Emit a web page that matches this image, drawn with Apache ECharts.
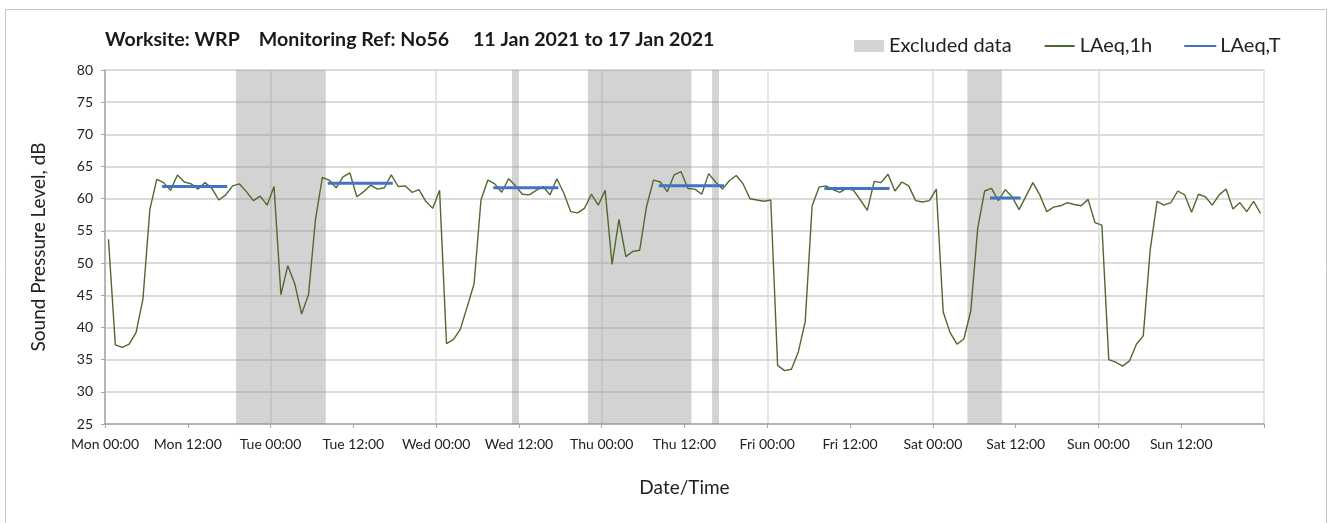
<!DOCTYPE html>
<html lang="en">
<head>
    <meta charset="UTF-8">
    <title>Noise monitoring No56</title>
    <style>
        html, body { margin: 0; padding: 0; background: #fff; }
        #main { width: 1336px; height: 523px; }
    </style>
</head>
<body>
<div id="main"></div>
<script src="https://cdn.jsdelivr.net/npm/echarts@6/dist/echarts.min.js"></script>
<script>
    const myChart = echarts.init(document.getElementById('main'));

    // hourly LAeq,1h from Mon 00:00 (one value per hour)
    const laeq1h = [
        53.7, 37.3, 36.9, 37.4, 39.2, 44.4, 58.3, 63.0, 62.5, 61.3, 63.7, 62.6, 62.3, 61.5, 62.5, 61.6, 59.8, 60.6, 62.0, 62.3, 61.1, 59.7, 60.4, 59.0,
        61.9, 45.1, 49.6, 46.8, 42.1, 45.1, 56.7, 63.3, 62.9, 61.7, 63.4, 64.0, 60.3, 61.1, 62.1, 61.5, 61.7, 63.7, 61.9, 62.0, 61.0, 61.4, 59.6, 58.5,
        61.3, 37.5, 38.1, 39.7, 43.2, 46.8, 59.8, 62.9, 62.3, 61.0, 63.1, 62.0, 60.7, 60.6, 61.3, 61.9, 60.6, 63.1, 60.9, 58.0, 57.8, 58.5, 60.7, 59.0,
        61.3, 49.8, 56.8, 51.0, 51.8, 52.0, 58.8, 62.9, 62.6, 61.1, 63.7, 64.2, 61.6, 61.5, 60.7, 63.9, 62.6, 61.5, 62.8, 63.6, 62.3, 60.0, 59.8, 59.6,
        59.8, 34.1, 33.3, 33.5, 36.2, 40.9, 58.9, 61.8, 62.0, 61.4, 61.0, 61.6, 61.3, 59.8, 58.2, 62.7, 62.5, 63.8, 61.2, 62.6, 62.0, 59.7, 59.5, 59.7,
        61.5, 42.4, 39.2, 37.4, 38.2, 42.6, 55.4, 61.2, 61.6, 59.7, 61.4, 60.3, 58.3, 60.4, 62.5, 60.6, 58.0, 58.7, 58.9, 59.4, 59.1, 58.9, 59.9, 56.3,
        55.9, 35.0, 34.6, 34.0, 34.8, 37.4, 38.7, 52.0, 59.6, 59.0, 59.4, 61.2, 60.6, 57.9, 60.7, 60.3, 59.0, 60.6, 61.5, 58.4, 59.4, 58.0, 59.6, 57.7
    ];

    // LAeq,T periods (hours from Mon 00:00)
    const periodStart = [8.5, 32.5, 56.5, 80.5, 104.5, 128.5];
    const periodEnd = [17.5, 41.5, 65.5, 89.5, 113.5, 132.5];
    const periodValue = [61.9, 62.4, 61.7, 62.0, 61.6, 60.1];

    // excluded data ranges (hours)
    const excludedStart = [19, 59, 70, 88, 125];
    const excludedEnd = [32, 60, 85, 89, 130];

    const tickLabels = [
        'Mon 00:00', 'Mon 12:00', 'Tue 00:00', 'Tue 12:00', 'Wed 00:00', 'Wed 12:00', 'Thu 00:00',
        'Thu 12:00', 'Fri 00:00', 'Fri 12:00', 'Sat 00:00', 'Sat 12:00', 'Sun 00:00', 'Sun 12:00'
    ];

    const font = 'Lato, "Open Sans", sans-serif';

    /*数据整理*/
    const lineData = laeq1h.map((v, i) => [i + 0.5, v]);
    const periodData = [];
    periodStart.forEach((s, i) => {
        periodData.push([s, periodValue[i]], [periodEnd[i], periodValue[i]], [periodEnd[i] + 0.1, null]);
    });
    const areas = excludedStart.map((s, i) => [{xAxis: s}, {xAxis: excludedEnd[i]}]);

    const option = {
        animation: false,
        textStyle: {fontFamily: font},
        graphic: [{
            type: 'rect',
            shape: {x: 5.5, y: 9.5, width: 1321, height: 530},
            style: {fill: null, stroke: '#c4c4c4', lineWidth: 1},
            silent: true
        }],
        title: {
            text: 'Worksite: WRP    Monitoring Ref: No56     11 Jan 2021 to 17 Jan 2021',
            left: 100,
            top: 25,
            textStyle: {fontFamily: font, fontSize: 19.6, fontWeight: 'bold', color: '#1a1a1a'}
        },
        legend: {
            left: 849,
            top: 31,
            itemWidth: 30,
            itemHeight: 12,
            itemGap: 32,
            textStyle: {fontFamily: font, fontSize: 20, color: '#222'},
            data: [
                {name: 'Excluded data', icon: 'rect', itemStyle: {color: '#d4d4d4'}},
                {name: 'LAeq,1h', itemStyle: {opacity: 0}},
                {name: 'LAeq,T', itemStyle: {opacity: 0}}
            ]
        },
        grid: {left: 105, right: 72, top: 70, bottom: 99},
        xAxis: [{
            type: 'value',
            min: 0,
            max: 168,
            interval: 12,
            name: 'Date/Time',
            nameLocation: 'middle',
            nameGap: 54,
            nameTextStyle: {fontFamily: font, fontSize: 19, color: '#222'},
            axisLine: {lineStyle: {color: '#a6a6a6', width: 1.5}},
            axisTick: {show: true, length: 4, lineStyle: {color: '#a6a6a6'}},
            axisLabel: {
                margin: 13,
                fontSize: 14,
                color: '#222',
                formatter: v => tickLabels[v / 12] || ''
            },
            splitLine: {show: false}
        }, {
            // day gridlines only
            type: 'value',
            min: 0,
            max: 168,
            interval: 24,
            position: 'bottom',
            axisLine: {show: false},
            axisTick: {show: false},
            axisLabel: {show: false},
            splitLine: {show: true, lineStyle: {color: '#dcdcdc', width: 1.5}}
        }],
        yAxis: {
            type: 'value',
            min: 25,
            max: 80,
            interval: 5,
            name: 'Sound Pressure Level, dB',
            nameLocation: 'middle',
            nameGap: 57,
            nameTextStyle: {fontFamily: font, fontSize: 19, color: '#222'},
            axisLine: {show: true, lineStyle: {color: '#a6a6a6', width: 1.5}},
            axisTick: {show: true, length: 4, lineStyle: {color: '#a6a6a6'}},
            axisLabel: {margin: 12, fontSize: 14, color: '#222'},
            splitLine: {lineStyle: {color: '#cfcfcf', width: 1.5}}
        },
        series: [
            {
                name: 'Excluded data',
                type: 'line',
                data: [],
                itemStyle: {color: '#d4d4d4'},
                markArea: {
                    silent: true,
                    itemStyle: {color: 'rgba(150,150,150,0.42)'},
                    data: areas
                }
            },
            {
                name: 'LAeq,1h',
                type: 'line',
                data: lineData,
                symbol: 'none',
                z: 3,
                itemStyle: {color: '#4f6a2e'},
                lineStyle: {color: '#4f6a2e', width: 1.4}
            },
            {
                name: 'LAeq,T',
                type: 'line',
                data: periodData,
                symbol: 'none',
                connectNulls: false,
                z: 4,
                itemStyle: {color: '#4472c4'},
                lineStyle: {color: '#4472c4', width: 3, cap: 'square'}
            }
        ]
    };

    myChart.setOption(option);
</script>
</body>
</html>
